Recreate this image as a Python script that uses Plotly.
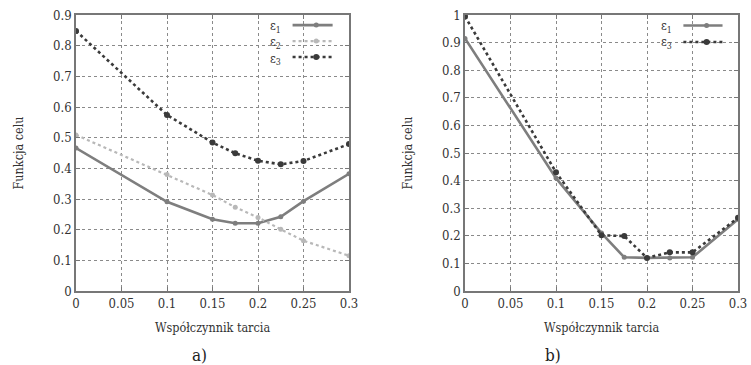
import plotly.graph_objects as go

x_vals = [0, 0.1, 0.15, 0.175, 0.2, 0.225, 0.25, 0.3]

# panel a)
a_eps1 = [0.466, 0.291, 0.234, 0.221, 0.221, 0.242, 0.293, 0.382]
a_eps2 = [0.509, 0.380, 0.313, 0.273, 0.240, 0.201, 0.164, 0.115]
a_eps3 = [0.848, 0.574, 0.484, 0.449, 0.425, 0.413, 0.424, 0.479]

# panel b)
b_eps1 = [0.915, 0.409, 0.210, 0.122, 0.120, 0.120, 0.122, 0.260]
b_eps3 = [0.995, 0.430, 0.202, 0.199, 0.120, 0.140, 0.140, 0.265]

x_ticks = [0, 0.05, 0.1, 0.15, 0.2, 0.25, 0.3]
x_ticklabels = ["0", "0.05", "0.1", "0.15", "0.2", "0.25", "0.3"]
a_yticks = [0, 0.1, 0.2, 0.3, 0.4, 0.5, 0.6, 0.7, 0.8, 0.9]
a_yticklabels = ["0", "0.1", "0.2", "0.3", "0.4", "0.5", "0.6", "0.7", "0.8", "0.9"]
b_yticks = [0, 0.1, 0.2, 0.3, 0.4, 0.5, 0.6, 0.7, 0.8, 0.9, 1]
b_yticklabels = ["0", "0.1", "0.2", "0.3", "0.4", "0.5", "0.6", "0.7", "0.8", "0.9", "1"]

a_labels = ["ε<sub>1</sub>", "ε<sub>2</sub>", "ε<sub>3</sub>"]
b_labels = ["ε<sub>1</sub>", "ε<sub>3</sub>"]

FONT = "DejaVu Serif Condensed, DejaVu Serif"
C1 = "#7e7e7e"
C2 = "#b8b8b8"
C3 = "#3a3a3a"

styles = {
    "e1": dict(color=C1, width=2.6, dash="solid", msize=5),
    "e2": dict(color=C2, width=2.2, dash="dot", msize=5),
    "e3": dict(color=C3, width=2.6, dash="dot", msize=6),
}

fig = go.Figure()

def add(xs, ys, key, xa, ya):
    s = styles[key]
    fig.add_trace(go.Scatter(
        x=xs, y=ys, mode="lines+markers", xaxis=xa, yaxis=ya, showlegend=False,
        line=dict(color=s["color"], width=s["width"], dash=s["dash"]),
        marker=dict(color=s["color"], size=s["msize"], symbol="circle"),
    ))

add(x_vals, a_eps1, "e1", "x", "y")
add(x_vals, a_eps2, "e2", "x", "y")
add(x_vals, a_eps3, "e3", "x", "y")
add(x_vals, b_eps1, "e1", "x2", "y2")
add(x_vals, b_eps3, "e3", "x2", "y2")

axis_common = dict(
    showgrid=True, gridcolor="#8a8a8a", griddash="dot", gridwidth=1,
    showline=True, linecolor="#777", linewidth=1.5, mirror="ticks",
    ticks="inside", ticklen=4, tickcolor="#777", automargin=False,
    zeroline=False, tickfont=dict(family=FONT, size=13, color="#333"),
)

y_dom = [74 / 365, 350 / 365]
xtitle = dict(text="Współczynnik tarcia", font=dict(family=FONT, size=12.5, color="#333"), standoff=13)
ytitle = dict(text="Funkcja celu", font=dict(family=FONT, size=12.5, color="#333"), standoff=27)
fig.update_layout(
    width=751, height=365, margin=dict(l=0, r=0, t=0, b=0, autoexpand=False),
    paper_bgcolor="white", plot_bgcolor="white",
    font=dict(family=FONT, color="#333"),
    xaxis=dict(domain=[76 / 751, 349 / 751], range=[0, 0.3], tickvals=x_ticks,
               ticktext=x_ticklabels, anchor="y", title=xtitle, **axis_common),
    yaxis=dict(domain=y_dom, range=[0, 0.9], tickvals=a_yticks, ticktext=a_yticklabels,
               anchor="x", title=ytitle, **axis_common),
    xaxis2=dict(domain=[465 / 751, 738 / 751], range=[0, 0.3], tickvals=x_ticks,
                ticktext=x_ticklabels, anchor="y2", title=xtitle, **axis_common),
    yaxis2=dict(domain=y_dom, range=[0, 1.0], tickvals=b_yticks, ticktext=b_yticklabels,
                anchor="x2", title=ytitle, **axis_common),
)

def legend_data(xa, ya, labels, keys, x_text, x_l0, x_l1, ys):
    fig.add_annotation(xref=xa, yref=ya, x=x_text, y=sum(ys) / len(ys) - 0.004,
                       text="<br>".join(labels), align="right",
                       showarrow=False, xanchor="right", yanchor="middle", borderpad=0,
                       font=dict(family=FONT, size=12.5, color="#333"))
    for key, yy in zip(keys, ys):
        s = styles[key]
        fig.add_trace(go.Scatter(x=[x_l0, x_l1], y=[yy, yy], mode="lines",
                                 xaxis=xa, yaxis=ya, showlegend=False, hoverinfo="skip",
                                 line=dict(color=s["color"], width=s["width"], dash=s["dash"])))
        fig.add_trace(go.Scatter(x=[(x_l0 + x_l1) / 2 + 0.004], y=[yy], mode="markers",
                                 xaxis=xa, yaxis=ya, showlegend=False, hoverinfo="skip",
                                 marker=dict(color=s["color"], size=s["msize"])))

legend_data("x", "y", a_labels, ["e1", "e2", "e3"], 0.226, 0.238, 0.282,
            [0.867, 0.815, 0.763])
legend_data("x2", "y2", b_labels, ["e1", "e3"], 0.229, 0.240, 0.283,
            [0.962, 0.902])

fig.add_annotation(xref="paper", yref="paper", x=190 / 751, y=(365 - 355) / 365, text="a)",
                   showarrow=False, yanchor="middle",
                   font=dict(family=FONT, size=17, color="#222"))
fig.add_annotation(xref="paper", yref="paper", x=563 / 751, y=(365 - 355) / 365, text="b)",
                   showarrow=False, yanchor="middle",
                   font=dict(family=FONT, size=17, color="#222"))

fig.write_html("out.html")
